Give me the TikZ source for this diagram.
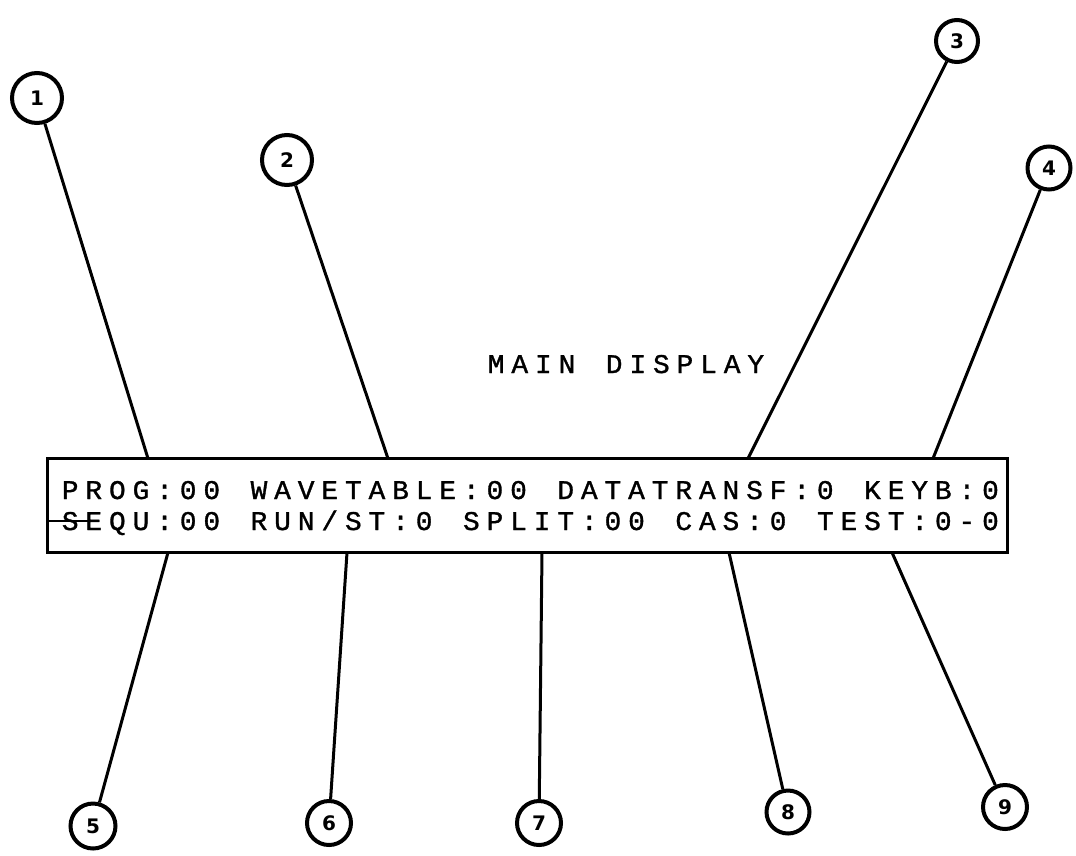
\documentclass[tikz,border=0pt]{standalone}
\usepackage{fontspec}
\newfontfamily\lcdfont[FakeStretch=1.03,FakeBold=1.2]{Liberation Mono}
\newfontfamily\handfont{DejaVu Sans}

% fixed-pitch display text: every character sits in a cell of equal width,
% '*' stands for an empty cell
\newlength\lcdpitch
\setlength\lcdpitch{23.6pt}
\newcommand\lcdtext[1]{\lcdscan#1\relax}
\def\lcdscan#1{\ifx\relax#1\else\ifx*#1\hspace*{\lcdpitch}\else\makebox[\lcdpitch]{#1}\fi\expandafter\lcdscan\fi}

\begin{document}
\begin{tikzpicture}[x=1pt,y=-1pt,
  panel/.style={draw, line width=3pt, minimum width=960pt, minimum height=94pt, inner sep=0pt},
  lcd/.style={inner sep=0pt, font=\lcdfont\fontsize{27}{27}\selectfont},
  leader/.style={line width=3pt},
  callout/.style={circle, draw, line width=4pt, inner sep=0pt,
    font=\handfont\bfseries\fontsize{20}{20}\selectfont}]

\useasboundingbox (0,0) rectangle (1076,855);

% display panel and its two text rows
\node[panel] (display) at (527.5,505.5) {};
\node[lcd, anchor=base west] (title) at (484.2,373) {\lcdtext{MAIN*DISPLAY}};
\node[lcd, anchor=base west] (row1) at (58.2,499) {\lcdtext{PROG:00*WAVETABLE:00*DATATRANSF:0*KEYB:0}};
\node[lcd, anchor=base west] (row2) at (58.2,530) {\lcdtext{SEQU:00*RUN/ST:0*SPLIT:00*CAS:0*TEST:0-0}};
\coordinate (strikeend) at (97,521);
\draw[line width=2.5pt] (display.west |- strikeend) -- (strikeend);

% numbered callouts
\node[callout, minimum size=50pt] (c1) at (37,98)  {1};
\node[callout, minimum size=50pt] (c2) at (287,160) {2};
\node[callout, minimum size=42pt] (c3) at (957,41)  {3};
\node[callout, minimum size=43pt] (c4) at (1049,168) {4};
\node[callout, minimum size=45pt] (c5) at (93,826)  {5};
\node[callout, minimum size=44pt] (c6) at (329,823) {6};
\node[callout, minimum size=44pt] (c7) at (539,823) {7};
\node[callout, minimum size=43pt] (c8) at (788,812) {8};
\node[callout, minimum size=44pt] (c9) at (1005,807) {9};

% where the leaders meet the panel
\coordinate (t1) at (148,458.5);
\coordinate (t2) at (388,458.5);
\coordinate (t3) at (748,458.5);
\coordinate (t4) at (933,458.5);
\coordinate (b5) at (168,552.5);
\coordinate (b6) at (347,552.5);
\coordinate (b7) at (542,552.5);
\coordinate (b8) at (729,552.5);
\coordinate (b9) at (892,552.5);

\draw[leader] (c1) -- (t1);
\draw[leader] (c2) -- (t2);
\draw[leader] (c3) -- (t3);
\draw[leader] (c4) -- (t4);
\draw[leader] (b5) -- (c5);
\draw[leader] (b6) -- (c6);
\draw[leader] (b7) -- (c7);
\draw[leader] (b8) -- (c8);
\draw[leader] (b9) -- (c9);
\end{tikzpicture}
\end{document}
